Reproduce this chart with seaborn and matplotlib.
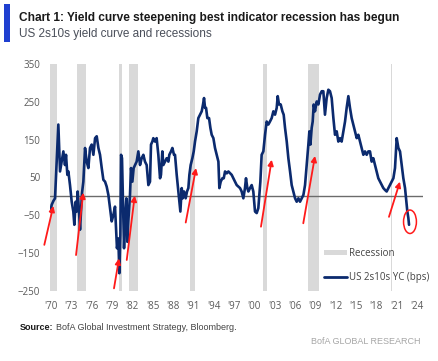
import numpy as np
import pandas as pd
import matplotlib
matplotlib.use("Agg")
import matplotlib.pyplot as plt
import seaborn as sns
from matplotlib import font_manager
from matplotlib.patches import Patch, Rectangle, Ellipse
from matplotlib.lines import Line2D

# US 2s10s yield curve (bps)
years = [1969.92, 1970.10, 1970.35, 1970.59, 1970.84, 1971.08, 1971.33, 1971.57, 1971.82, 1972.06,
         1972.21, 1972.41, 1972.56, 1972.80, 1973.05, 1973.29, 1973.44, 1973.64, 1973.79, 1973.93,
         1974.13, 1974.28, 1974.43, 1974.57, 1974.77, 1975.02, 1975.26, 1975.51, 1975.75, 1976.00,
         1976.25, 1976.50, 1976.74, 1976.99, 1977.23, 1977.48, 1977.72, 1977.97, 1978.21, 1978.46,
         1978.70, 1978.95, 1979.20, 1979.44, 1979.59, 1979.73, 1979.93, 1980.08, 1980.23, 1980.33,
         1980.47, 1980.62, 1980.77, 1980.91, 1981.11, 1981.26, 1981.40, 1981.65, 1981.80, 1982.00,
         1982.19, 1982.39, 1982.63, 1982.88, 1983.13, 1983.37, 1983.62, 1983.86, 1984.11, 1984.36,
         1984.60, 1984.75, 1984.95, 1985.09, 1985.34, 1985.58, 1985.83, 1986.08, 1986.22, 1986.42,
         1986.57, 1986.81, 1987.06, 1987.31, 1987.45, 1987.70, 1987.90, 1988.14, 1988.29, 1988.54,
         1988.69, 1988.93, 1989.08, 1989.28, 1989.42, 1989.62, 1989.86, 1990.06, 1990.26, 1990.41,
         1990.60, 1990.85, 1991.05, 1991.24, 1991.49, 1991.73, 1991.98, 1992.23, 1992.42, 1992.57,
         1992.72, 1992.87, 1993.06, 1993.31, 1993.51, 1993.70, 1993.95, 1994.19, 1994.44, 1994.69,
         1994.83, 1995.03, 1995.28, 1995.48, 1995.67, 1995.92, 1996.16, 1996.65, 1996.89, 1997.14,
         1997.39, 1997.63, 1997.88, 1998.12, 1998.37, 1998.61, 1998.76, 1998.96, 1999.11, 1999.35,
         1999.60, 1999.84, 2000.09, 2000.34, 2000.58, 2000.73, 2000.88, 2001.07, 2001.32, 2001.57,
         2001.81, 2002.06, 2002.30, 2002.55, 2002.80, 2003.04, 2003.29, 2003.44, 2003.63, 2003.88,
         2004.13, 2004.32, 2004.52, 2004.77, 2005.01, 2005.26, 2005.50, 2005.75, 2006.00, 2006.24,
         2006.49, 2006.73, 2006.98, 2007.23, 2007.47, 2007.72, 2007.96, 2008.11, 2008.26, 2008.45,
         2008.60, 2008.75, 2008.94, 2009.19, 2009.44, 2009.68, 2009.93, 2010.17, 2010.41, 2010.66,
         2010.91, 2011.15, 2011.40, 2011.65, 2011.89, 2012.14, 2012.38, 2012.63, 2012.87, 2013.12,
         2013.37, 2013.61, 2013.86, 2014.10, 2014.35, 2014.59, 2014.84, 2015.09, 2015.33, 2015.58,
         2015.82, 2016.07, 2016.31, 2016.56, 2016.81, 2017.05, 2017.30, 2017.54, 2017.79, 2018.04,
         2018.28, 2018.53, 2018.77, 2019.02, 2019.27, 2019.51, 2019.76, 2020.00, 2020.25, 2020.50,
         2020.74, 2020.99, 2021.24, 2021.48, 2021.73, 2021.97, 2022.22, 2022.37, 2022.56, 2022.71,
         2022.81]
spread_bps = [-40, -22, -12, -5, 92, 190, 66, 92, 119, 83,
              110, 57, 66, 30, -14, -40, -75, -14, -40, 13,
              -40, -88, -40, 9, 39, 128, 92, 75, 128, 137,
              110, 154, 159, 128, 110, 75, 44, 39, 26, 4,
              -31, -66, -49, -27, -84, -137, -111, -203, -102, 110,
              101, -22, -137, -66, -5, -120, -66, 4, 75, 39,
              75, 83, 92, 119, 83, 101, 110, 92, 83, 30,
              39, 137, 145, 154, 145, 154, 110, 48, 57, 119,
              83, 92, 101, 92, 110, 119, 128, 110, 110, 57,
              30, -14, -40, 22, -5, 13, -5, 13, 22, 57,
              83, 101, 119, 145, 172, 207, 216, 225, 243, 260,
              234, 234, 207, 207, 181, 163, 154, 128, 110, 92,
              22, 39, 48, 48, 66, 61, 66, 57, 48, 39,
              30, 26, 22, 13, -5, 22, 48, 22, 13, 22,
              30, 13, -40, -44, -31, 4, 39, 110, 119, 163,
              198, 190, 198, 207, 225, 216, 234, 265, 243, 243,
              225, 216, 181, 145, 101, 66, 30, 13, -5, -14,
              -5, -14, -5, 4, 30, 83, 137, 172, 137, 181,
              198, 243, 225, 251, 243, 269, 278, 278, 216, 260,
              282, 278, 260, 207, 163, 172, 145, 154, 145, 172,
              198, 234, 265, 234, 207, 190, 172, 154, 163, 145,
              128, 110, 119, 110, 119, 119, 92, 101, 83, 66,
              48, 39, 30, 22, 17, 13, 22, 30, 39, 48,
              75, 154, 128, 119, 83, 48, 22, -5, -40, -57,
              -75]

# NBER recessions (start, end) in decimal years
rec_start = [1969.92, 1973.88, 1980.00, 1981.54, 1990.54, 2001.21, 2007.96, 2020.12]
rec_end = [1970.88, 1975.21, 1980.54, 1982.88, 1991.21, 2001.88, 2009.46, 2020.29]

# red arrows: (tail year, tail bps, head year, head bps)
arrow_tail_x = [1969.01, 1973.69, 1979.29, 1981.17, 1989.87, 2000.97, 2007.21, 2019.85]
arrow_tail_y = [-128, -155, -243, -168, -69, -80, -71, -54]
arrow_head_x = [1970.34, 1974.76, 1980.03, 1982.35, 1991.39, 2002.55, 2008.94, 2021.47]
arrow_head_y = [-25, 10, -164, 2, 75, 97, 107, 39]

tick_years = list(range(1970, 2025, 3))
tick_labels = ["'" + str(y)[2:] for y in tick_years]
y_ticks = [350, 250, 150, 50, -50, -150, -250]

df = pd.DataFrame({"year": years, "spread": spread_bps})

sns.set_style("white")
available = {f.name for f in font_manager.fontManager.ttflist}
narrow = "Liberation Sans Narrow" if "Liberation Sans Narrow" in available else "Liberation Sans"
body = "Open Sans" if "Open Sans" in available else "DejaVu Sans"
plt.rcParams["font.family"] = [body, "DejaVu Sans"]

navy = "#0b2a6e"
grey_txt = "#5a5a5a"

fig = plt.figure(figsize=(4.39, 3.61), dpi=100)
ax = fig.add_axes([50 / 439, 1 - 291 / 361, 373 / 439, 227 / 361])

for s, e in zip(rec_start, rec_end):
    ax.axvspan(s, e, color="#d9d9d9", lw=0, zorder=0)
ax.axhline(0, color="#6b6b6b", lw=1.0, zorder=1)

sns.lineplot(data=df, x="year", y="spread", color=navy, lw=1.9, ax=ax, zorder=3)

for tx, ty, hx, hy in zip(arrow_tail_x, arrow_tail_y, arrow_head_x, arrow_head_y):
    ax.annotate("", xy=(hx, hy), xytext=(tx, ty), annotation_clip=False,
                arrowprops=dict(arrowstyle="-|>", color="#ff1a1a", lw=1.3,
                                mutation_scale=8, shrinkA=0, shrinkB=0), zorder=4)

ax.add_patch(Ellipse((2022.95, -67), width=1.9, height=62, fill=False,
                     ec="#ff1a1a", lw=1.1, zorder=5))

ax.set_xlim(1969.85, 2024.87)
ax.set_ylim(-250, 350)
ax.set_xticks(tick_years)
ax.set_xticklabels(tick_labels)
ax.set_yticks(y_ticks)
ax.set_xlabel("")
ax.set_ylabel("")
ax.tick_params(axis="both", length=0, labelsize=7, colors=grey_txt)
ax.tick_params(axis="y", pad=7)
ax.tick_params(axis="x", pad=7)
for sp in ax.spines.values():
    sp.set_visible(False)

handles = [Patch(facecolor="#d9d9d9", edgecolor="none"),
           Line2D([], [], color=navy, lw=2)]
ax.legend(handles, ["Recession", "US 2s10s YC (bps)"], loc="center left",
          bbox_to_anchor=(0.735, 0.113), frameon=False, fontsize=7,
          handlelength=2.3, handleheight=0.45, handletextpad=0.3,
          labelspacing=1.35, borderpad=0, borderaxespad=0, labelcolor="#444444")

# header
fig.patches.append(Rectangle((4 / 439, 1 - 42 / 361), 6 / 439, 38 / 361,
                             transform=fig.transFigure, color="#1f3fd0", lw=0))
fig.text(19 / 439, 1 - 21.5 / 361,
         "Chart 1: Yield curve steepening best indicator recession has begun",
         family=[narrow, "DejaVu Sans"], weight="bold", fontsize=8.6,
         color="#1a1a1a", va="baseline", ha="left")
fig.text(19 / 439, 1 - 37 / 361, "US 2s10s yield curve and recessions",
         family=[narrow, "DejaVu Sans"], fontsize=8.5, color="#4a4f5a",
         va="baseline", ha="left")

# footer
src = fig.text(20 / 439, 1 - 329.5 / 361, "Source:", weight="bold", fontsize=6.5,
               family=[narrow, "DejaVu Sans"], color="#1a1a1a", va="baseline")
fig.canvas.draw()
bb = src.get_window_extent(fig.canvas.get_renderer())
fig.text(bb.x1 / fig.bbox.width + 3 / 439, 1 - 329.5 / 361,
         "BofA Global Investment Strategy, Bloomberg.", fontsize=6.5,
         family=[narrow, "DejaVu Sans"], color="#444444", va="baseline")
fig.text(421 / 439, 1 - 344 / 361, "BofA GLOBAL RESEARCH", fontsize=6.5,
         family=[narrow, "DejaVu Sans"], color="#a6a6a6", va="baseline", ha="right")

fig.savefig("out.png", dpi=100)
